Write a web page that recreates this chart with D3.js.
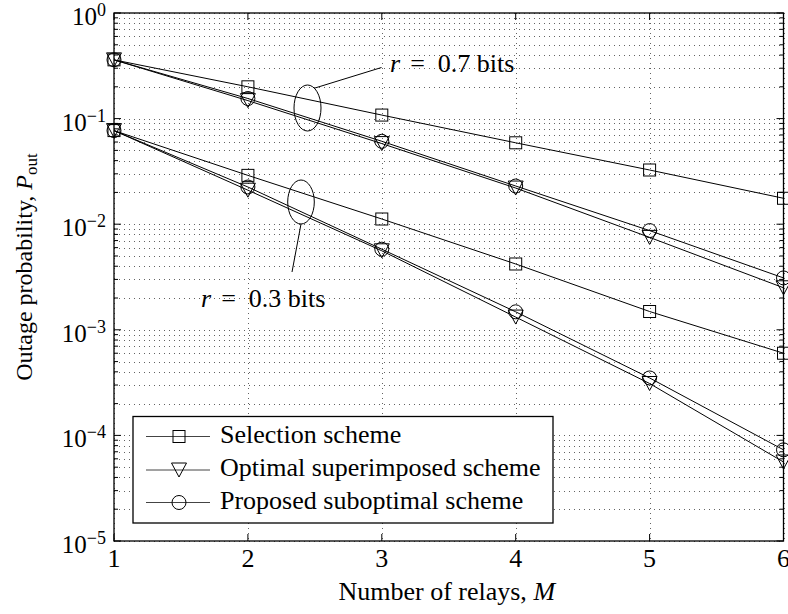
<!DOCTYPE html>
<html>
<head>
<meta charset="utf-8">
<script src="https://cdn.jsdelivr.net/npm/d3@7"></script>
<style>
  html, body { margin: 0; padding: 0; background: #fff; }
  svg { display: block; font-family: "Liberation Serif", "Times New Roman", serif; }
</style>
</head>
<body>
<svg id="chart" width="788" height="614"></svg>
<script>
// Number of relays
const relays = [1, 2, 3, 4, 5, 6];

// Outage probability, rate r = 0.7 bits
const selection07 = [0.36, 0.2, 0.108, 0.059, 0.0326, 0.0176];
const optimal07   = [0.36, 0.148, 0.058, 0.022, 0.0075, 0.0025];
const proposed07  = [0.36, 0.155, 0.061, 0.023, 0.0087, 0.0031];

// Outage probability, rate r = 0.3 bits
const selection03 = [0.077, 0.029, 0.0112, 0.0042, 0.00149, 0.0006];
const optimal03   = [0.077, 0.021, 0.0056, 0.00132, 0.00031, 0.000056];
const proposed03  = [0.077, 0.0225, 0.0058, 0.00148, 0.00035, 0.000073];

const schemeNames = ["Selection scheme", "Optimal superimposed scheme", "Proposed suboptimal scheme"];
const markerTypes = ["square", "triangle", "circle"];

const yTickExps = [0, -1, -2, -3, -4, -5];
const xTicks = [1, 2, 3, 4, 5, 6];

const svg = d3.select("#chart");
const plotLeft = 114, plotRight = 783.5, plotTop = 13, plotBottom = 541;

const x = d3.scaleLinear().domain([1, 6]).range([plotLeft, plotRight]);
const y = d3.scaleLog().domain([1e-5, 1]).range([plotBottom, plotTop]);

// ---- grid (dotted) ----
const grid = svg.append("g");
const minorVals = [];
for (let e = -5; e < 0; e++) for (let k = 1; k <= 9; k++) minorVals.push(k * Math.pow(10, e));
minorVals.push(1);
grid.selectAll("line.h").data(minorVals).join("line")
  .attr("x1", plotLeft).attr("x2", plotRight)
  .attr("y1", d => Math.round(y(d)) + 0.5).attr("y2", d => Math.round(y(d)) + 0.5)
  .attr("stroke", "#222").attr("stroke-width", 1).attr("stroke-dasharray", "1,4").attr("opacity", 0.7);
grid.selectAll("line.v").data(xTicks).join("line")
  .attr("y1", plotTop).attr("y2", plotBottom)
  .attr("x1", d => Math.round(x(d)) + 0.5).attr("x2", d => Math.round(x(d)) + 0.5)
  .attr("stroke", "#222").attr("stroke-width", 1).attr("stroke-dasharray", "1,4").attr("opacity", 0.7);

// ---- axes frame and ticks ----
const axisG = svg.append("g");
axisG.append("rect").attr("x", plotLeft).attr("y", plotTop)
  .attr("width", plotRight - plotLeft).attr("height", plotBottom - plotTop)
  .attr("fill", "none").attr("stroke", "#000").attr("stroke-width", 1.3);

const tickG = axisG.append("g").attr("stroke", "#000").attr("stroke-width", 1);
minorVals.forEach(v => {
  const isMajor = Math.abs(Math.log10(v) - Math.round(Math.log10(v))) < 1e-9;
  const len = isMajor ? 7 : 4;
  const yy = y(v);
  tickG.append("line").attr("x1", plotLeft).attr("x2", plotLeft + len).attr("y1", yy).attr("y2", yy);
  tickG.append("line").attr("x1", plotRight).attr("x2", plotRight - len).attr("y1", yy).attr("y2", yy);
});
xTicks.forEach(t => {
  tickG.append("line").attr("x1", x(t)).attr("x2", x(t)).attr("y1", plotBottom).attr("y2", plotBottom - 7);
  tickG.append("line").attr("x1", x(t)).attr("x2", x(t)).attr("y1", plotTop).attr("y2", plotTop + 7);
});

// x tick labels
axisG.selectAll("text.xt").data(xTicks).join("text")
  .attr("x", d => x(d)).attr("y", 567)
  .attr("text-anchor", "middle").attr("font-size", 26).text(d => d);

// y tick labels: 10^e
yTickExps.forEach(e => {
  const t = axisG.append("text").attr("x", 106).attr("y", y(Math.pow(10, e)) + 12)
    .attr("text-anchor", "end").attr("font-size", 25);
  t.append("tspan").text("10");
  t.append("tspan").attr("dy", -9).attr("font-size", 18).text(e === 0 ? "0" : "\u2212" + (-e));
});

// axis titles
const xl = svg.append("text").attr("x", (plotLeft + plotRight) / 2 - 2).attr("y", 600)
  .attr("text-anchor", "middle").attr("font-size", 26);
xl.append("tspan").text("Number of relays, ");
xl.append("tspan").attr("font-style", "italic").text("M");

const yl = svg.append("text").attr("transform", "translate(32,267) rotate(-90)")
  .attr("text-anchor", "middle").attr("font-size", 24);
yl.append("tspan").text("Outage probability, ");
yl.append("tspan").attr("font-style", "italic").text("P");
yl.append("tspan").attr("dy", 5).attr("font-size", 17).text("out");

// ---- markers ----
function drawMarker(g, type, cx, cy, stroke) {
  if (type === "square") {
    g.append("rect").attr("x", cx - 6).attr("y", cy - 6).attr("width", 12).attr("height", 12)
      .attr("fill", "none").attr("stroke", stroke).attr("stroke-width", 1);
  } else if (type === "circle") {
    g.append("circle").attr("cx", cx).attr("cy", cy).attr("r", 7)
      .attr("fill", "none").attr("stroke", stroke).attr("stroke-width", 1);
  } else {
    g.append("path").attr("d", `M${cx - 7.5},${cy - 7} L${cx + 7.5},${cy - 7} L${cx},${cy + 7} Z`)
      .attr("fill", "none").attr("stroke", stroke).attr("stroke-width", 1);
  }
}

// ---- series ----
const series = [
  { values: selection07, marker: "square" },
  { values: optimal07, marker: "triangle" },
  { values: proposed07, marker: "circle" },
  { values: selection03, marker: "square" },
  { values: optimal03, marker: "triangle" },
  { values: proposed03, marker: "circle" }
];
const line = d3.line().x(d => x(d[0])).y(d => y(d[1]));
const dataG = svg.append("g");
series.forEach(s => {
  const pts = relays.map((m, i) => [m, s.values[i]]);
  dataG.append("path").attr("d", line(pts)).attr("fill", "none").attr("stroke", "#000").attr("stroke-width", 1);
  pts.forEach(p => drawMarker(dataG, s.marker, x(p[0]), y(p[1]), "#000"));
});

// ---- annotations ----
const ann = svg.append("g").attr("stroke", "#000").attr("fill", "none").attr("stroke-width", 1);
ann.append("ellipse").attr("cx", 307.5).attr("cy", 108).attr("rx", 13.5).attr("ry", 23);
ann.append("line").attr("x1", 315).attr("y1", 88).attr("x2", 381.5).attr("y2", 67.5);
ann.append("ellipse").attr("cx", 301).attr("cy", 202).attr("rx", 13.3).attr("ry", 22);
ann.append("line").attr("x1", 301).attr("y1", 224).attr("x2", 292).attr("y2", 272);

function rateLabel(px, py, val) {
  const t = svg.append("text").attr("x", px).attr("y", py).attr("font-size", 26);
  t.append("tspan").attr("font-style", "italic").text("r");
  t.append("tspan").attr("dx", 10).text("=");
  t.append("tspan").attr("dx", 13).text(val + " bits");
}
rateLabel(390, 72, "0.7");
rateLabel(201, 307, "0.3");

// ---- legend ----
const lg = svg.append("g");
lg.append("rect").attr("x", 133).attr("y", 416.5).attr("width", 420).attr("height", 106.5)
  .attr("fill", "#fff").attr("stroke", "#000").attr("stroke-width", 1.3);
const rowY = [436.5, 470, 502.5];
schemeNames.forEach((name, i) => {
  lg.append("line").attr("x1", 146).attr("x2", 210).attr("y1", rowY[i]).attr("y2", rowY[i])
    .attr("stroke", "#444").attr("stroke-width", 1);
  drawMarker(lg, markerTypes[i], 179, rowY[i], "#000");
  lg.append("text").attr("x", 220).attr("y", rowY[i] + 6).attr("font-size", 26).text(name);
});
</script>
</body>
</html>
